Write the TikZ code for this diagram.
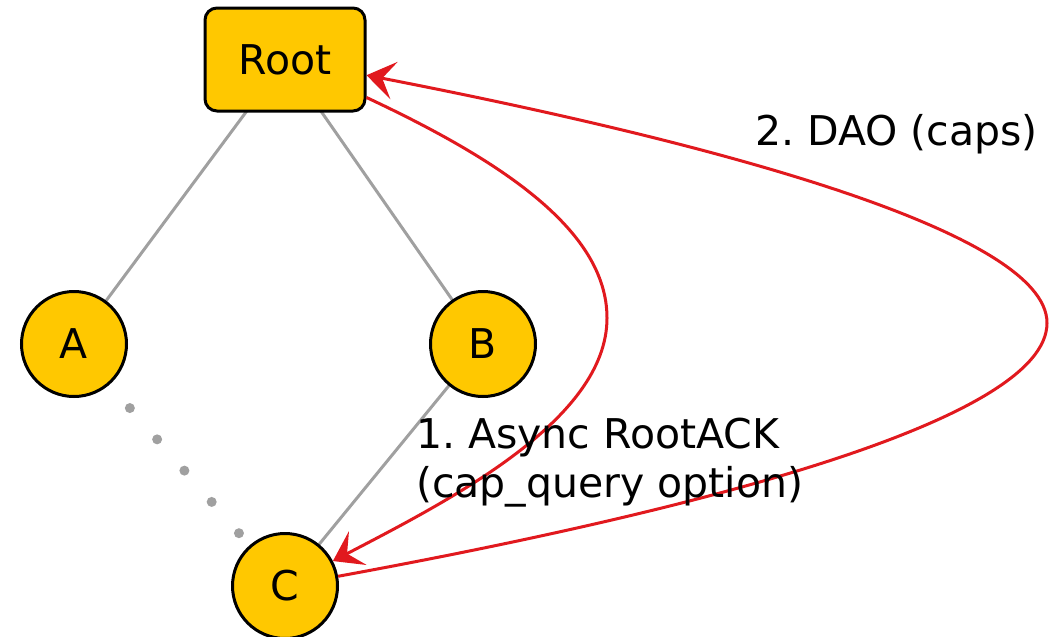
\documentclass[tikz,border=0pt]{standalone}
\usepackage{fontspec}
\setmainfont{DejaVu Sans}
\usetikzlibrary{arrows.meta}
\definecolor{nodefill}{RGB}{255,200,0}
\definecolor{edgegrey}{RGB}{160,160,160}
\definecolor{msgred}{RGB}{225,25,30}
\frenchspacing
\begin{document}
\begin{tikzpicture}[x=1pt,y=-1pt,
  every node/.style={font=\fontsize{41}{49}\selectfont},
  treenode/.style={circle,draw=black,line width=3pt,fill=nodefill,minimum size=105pt,inner sep=0pt},
  rootnode/.style={rectangle,rounded corners=12pt,draw=black,line width=3pt,fill=nodefill,minimum width=160pt,minimum height=103pt,inner sep=0pt},
  treeedge/.style={draw=edgegrey,line width=3pt},
  dotedge/.style={draw=edgegrey,line width=10pt,line cap=round,dash pattern=on 0pt off 41.5pt},
  msg/.style={draw=msgred,line width=3pt,-{Stealth[length=28pt,width=38pt,inset=12pt]}},
  lbl/.style={align=left,inner sep=0pt,anchor=base west}]
\useasboundingbox (0,0) rectangle (1063,637);
\coordinate (rootc) at (285,59.5);
\coordinate (Ac) at (74,344);
\coordinate (Bc) at (483,344);
\coordinate (Cc) at (285,586);
\draw[treeedge] (rootc) -- (Ac);
\draw[treeedge] (rootc) -- (Bc);
\draw[treeedge] (Bc) -- (Cc);
\draw[dotedge,shorten <=85pt,shorten >=70pt] (Ac) -- (Cc);
\node[rootnode] (root) at (rootc) {Root};
\node[treenode] (A) at (Ac) {A};
\node[treenode] (B) at (Bc) {B};
\node[treenode] (C) at (Cc) {C};
\draw[msg] (root) .. controls (500,160) and (607,230) .. (607,318)
  .. controls (607,420) and (450,500) .. (C);
\draw[msg] (C) .. controls (700,510) and (1047,420) .. (1047,323)
  .. controls (1047,230) and (700,140) .. (root);
\node[lbl] (l1) at (416,497) {1. Async RootACK\\(cap\_query option)};
\node[lbl] (l2) at (755,145) {2. DAO (caps)};
\end{tikzpicture}
\end{document}
